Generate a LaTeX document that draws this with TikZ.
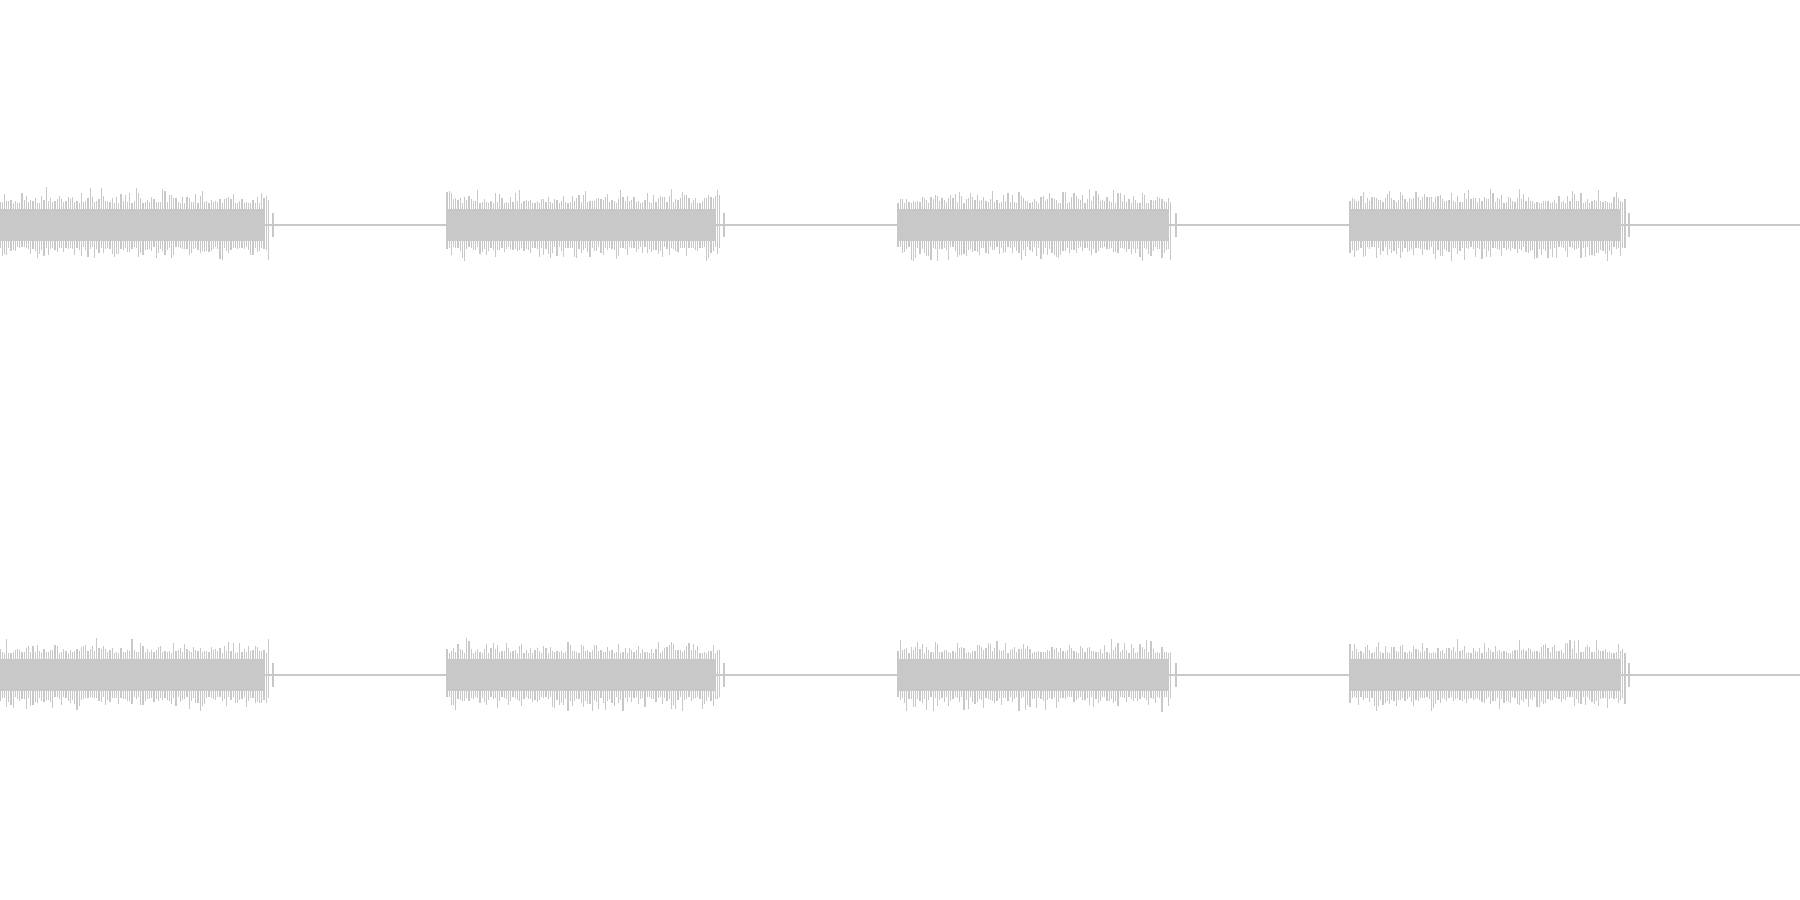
\documentclass[tikz,border=0pt]{standalone}
\definecolor{wave}{HTML}{C8C8C8}
\begin{document}
\begin{tikzpicture}[x=1cm,y=1cm]
\tikzset{waveline/.style={draw=wave,line width=0.35pt},wavecore/.style={fill=wave}}
\useasboundingbox (0,0) rectangle (18,9);
\pgfmathsetseed{42}
\foreach \yc in {6.75,2.25}{
  \draw[draw=wave,line width=0.3pt] (0,\yc) -- (18,\yc);
  \foreach \xs/\xe in {0/2.70,4.47/7.21,8.98/11.73,13.50/16.26}{
    \fill[wavecore] (\xs,\yc-0.16) rectangle (\xe-0.05,\yc+0.16);
    \pgfmathsetmacro{\xn}{\xs+0.022}
    \foreach \x in {\xs,\xn,...,\xe}{
      \pgfmathsetmacro{\a}{0.22+0.16*rnd*rnd}
      \pgfmathsetmacro{\b}{0.22+0.16*rnd*rnd}
      \draw[waveline] (\x,\yc-\b) -- (\x,\yc+\a);
    }
    \draw[waveline] (\xe+0.03,\yc-0.12) -- (\xe+0.03,\yc+0.12);
  }
}
\end{tikzpicture}
\end{document}
